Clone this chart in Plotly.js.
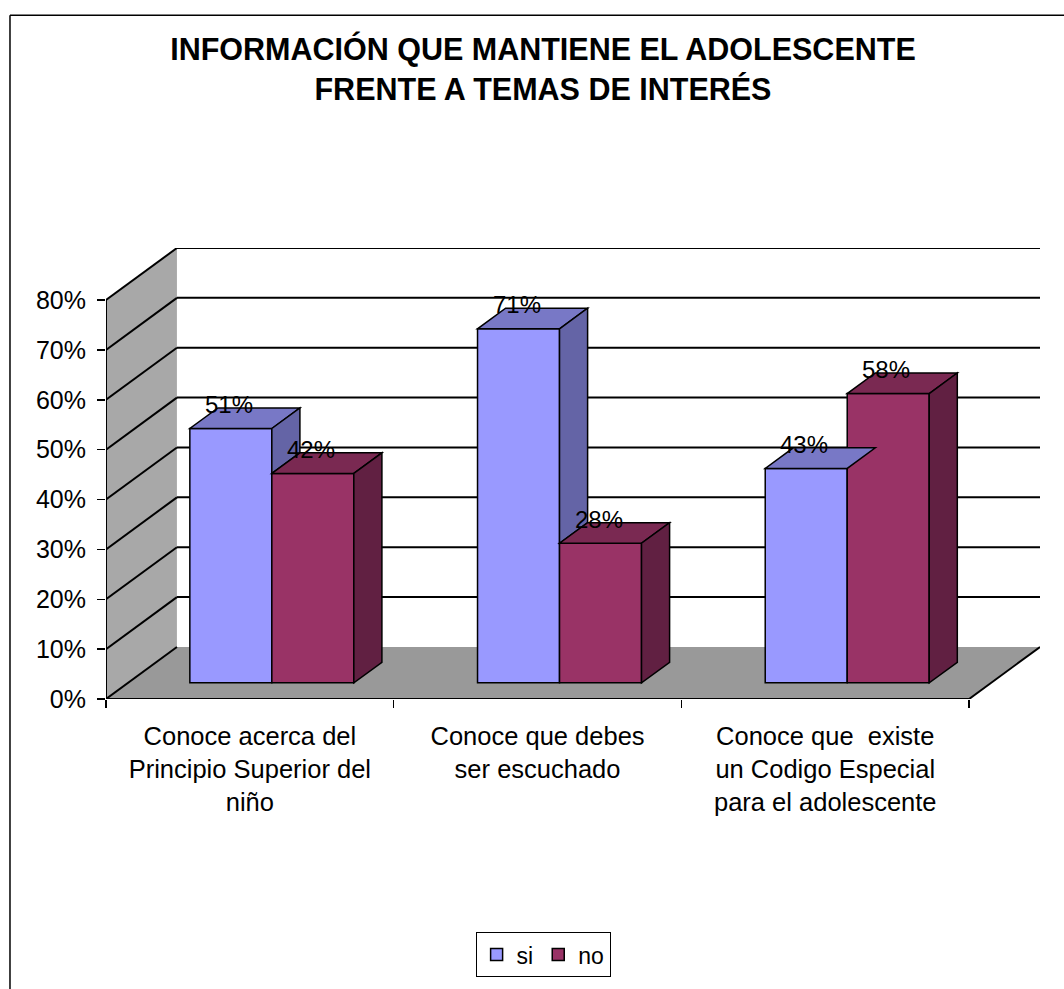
<!DOCTYPE html>
<html>
<head>
<meta charset="utf-8">
<script src="https://cdn.plot.ly/plotly-3.0.1.min.js"></script>
<style>html,body{margin:0;padding:0;background:#fff;}#chart{width:1064px;height:989px;}</style>
</head>
<body>
<div id="chart"></div>
<script>
// ---- data ----
const categories = [
  "Conoce acerca del<br>Principio Superior del<br>niño",
  "Conoce que debes<br>ser escuchado",
  "Conoce que  existe<br>un Codigo Especial<br>para el adolescente"
];
const siValues = [51, 71, 43];
const noValues = [42, 28, 58];
const yTickValues = [0, 10, 20, 30, 40, 50, 60, 70, 80];
const yTickLabels = yTickValues.map(v => v + "%");
const seriesNames = ["si", "no"];

// ---- 3D geometry (axis units) ----
const DX = 0.2465;   // depth shift in category units
const DY = 10.43;    // depth shift in % units
const Z0 = 0.31;     // front face depth fraction
const DZ = 0.396;    // bar depth fraction
const W = 0.285;     // bar width
const YMAX = 80;
const X0 = -0.5, X1 = categories.length - 0.5;

const FONT = "Liberation Sans, Arial, sans-serif";
const colors = {
  si: {front: "#9999FF", top: "#7878C6", side: "#6464A6"},
  no: {front: "#993366", top: "#7A2952", side: "#612042"}
};

function poly(pts) {
  return "M" + pts.map(p => p[0] + "," + p[1]).join(" L") + " Z";
}

const shapes = [];
// outer chart border (frame lines)
const BL = -0.1028, BT = 1.5163, BR = 1.06, BB = -0.75;
[[BL, BT, BR, BT], [BL, BT, BL, BB]].forEach(s => {
  shapes.push({type: "line", xref: "paper", yref: "paper", layer: "above",
    x0: s[0], y0: s[1], x1: s[2], y1: s[3], line: {color: "#000", width: 1.5}});
});
// left wall
shapes.push({type: "path", xref: "x", yref: "y", layer: "below",
  path: poly([[X0, 0], [X0, YMAX], [X0 + DX, YMAX + DY], [X0 + DX, DY]]),
  fillcolor: "#A8A8A8", line: {width: 0}});
// floor
shapes.push({type: "path", xref: "x", yref: "y", layer: "below",
  path: poly([[X0, 0], [X1, 0], [X1 + DX, DY], [X0 + DX, DY]]),
  fillcolor: "#999999", line: {width: 0}});
// gridlines back wall + left wall
yTickValues.forEach(v => {
  if (v > 0) {
    shapes.push({type: "line", xref: "x", yref: "y", layer: "below",
      x0: X0 + DX, x1: X1 + DX, y0: v + DY, y1: v + DY, line: {color: "#000", width: 2}});
  }
  shapes.push({type: "line", xref: "x", yref: "y", layer: "below",
    x0: X0, x1: X0 + DX, y0: v, y1: v + DY, line: {color: "#000", width: 2}});
});
// left wall front edge (value axis line)
shapes.push({type: "line", xref: "x", yref: "y", layer: "below",
  x0: X0, x1: X0, y0: 0, y1: YMAX, line: {color: "#000", width: 2}});
// floor front and right edges
shapes.push({type: "line", xref: "x", yref: "y", layer: "below",
  x0: X0, x1: X1, y0: 0, y1: 0, line: {color: "#000", width: 2}});
shapes.push({type: "line", xref: "x", yref: "y", layer: "below",
  x0: X1, x1: X1 + DX, y0: 0, y1: DY, line: {color: "#000", width: 2}});

// bar tops and sides
const base = Z0 * DY;
const ddx = DZ * DX, ddy = DZ * DY;
const annotations = [];
categories.forEach((c, i) => {
  const cx = i + Z0 * DX;
  const bars = [
    {key: "si", xl: cx - W, xr: cx, v: siValues[i], other: noValues[i]},
    {key: "no", xl: cx, xr: cx + W, v: noValues[i], other: null}
  ];
  bars.forEach(b => {
    const yt = base + b.v;
    const col = colors[b.key];
    shapes.push({type: "path", xref: "x", yref: "y", layer: "above",
      path: poly([[b.xl, yt], [b.xr, yt], [b.xr + ddx, yt + ddy], [b.xl + ddx, yt + ddy]]),
      fillcolor: col.top, line: {color: "#000", width: 1.5}});
    let lo = base;
    if (b.other !== null) lo = base + b.other;
    if (lo < yt) {
      shapes.push({type: "path", xref: "x", yref: "y", layer: "above",
        path: poly([[b.xr, lo], [b.xr, yt], [b.xr + ddx, yt + ddy], [b.xr + ddx, lo + ddy]]),
        fillcolor: col.side, line: {color: "#000", width: 1.5}});
    }
    annotations.push({xref: "x", yref: "y", x: (b.xl + b.xr) / 2 - 0.007, y: yt + ddy,
      text: b.v + "%", showarrow: false, yanchor: "bottom", yshift: -12,
      font: {family: FONT, size: 24, color: "#000"}});
  });
});

const traces = [
  {type: "bar", name: seriesNames[0], x: categories.map((c, i) => i + Z0 * DX - W / 2), y: siValues,
   base: base, width: W, marker: {color: colors.si.front, line: {color: "#000", width: 1.5}}, hoverinfo: "skip"},
  {type: "bar", name: seriesNames[1], x: categories.map((c, i) => i + Z0 * DX + W / 2), y: noValues,
   base: base, width: W, marker: {color: colors.no.front, line: {color: "#000", width: 1.5}}, hoverinfo: "skip"}
];

const layout = {
  width: 1064, height: 989, autosize: false,
  paper_bgcolor: "#fff", plot_bgcolor: "rgba(0,0,0,0)",
  margin: {l: 106, r: 24, t: 248, b: 282, pad: 0},
  font: {family: FONT, color: "#000"},
  barmode: "overlay",
  title: {text: "INFORMACIÓN QUE MANTIENE EL ADOLESCENTE<br>FRENTE A TEMAS DE INTERÉS",
    font: {family: FONT, size: 30.5, color: "#000", weight: "bold"},
    x: 0.5103, xanchor: "center", xref: "container", y: 0.9393, yanchor: "top", yref: "container"},
  xaxis: {range: [X0, X1 + DX], tickvals: categories.map((c, i) => i), ticktext: categories,
    ticks: "", showgrid: false, zeroline: false, showline: false,
    tickfont: {family: FONT, size: 25.5, color: "#000"}, ticklabelstandoff: 19,
    minor: {tickmode: "array", tickvals: [-0.5, 0.5, 1.5, 2.5], ticks: "outside", ticklen: 8, tickwidth: 1.5, tickcolor: "#000", showgrid: false},
    fixedrange: true},
  yaxis: {range: [0, YMAX + DY], tickvals: yTickValues, ticktext: yTickLabels,
    ticks: "outside", ticklen: 8, tickwidth: 1.5, tickcolor: "#000",
    showgrid: false, zeroline: false, showline: false,
    tickfont: {family: FONT, size: 25, color: "#000"}, ticklabelstandoff: 6, fixedrange: true},
  legend: {orientation: "h", x: 0.468, xanchor: "center", y: -0.517, yanchor: "top",
    bordercolor: "#000", borderwidth: 1, bgcolor: "#fff",
    font: {family: FONT, size: 23, color: "#000"}},
  shapes: shapes,
  annotations: annotations
};

Plotly.newPlot("chart", traces, layout, {displayModeBar: false, staticPlot: true});
</script>
</body>
</html>
